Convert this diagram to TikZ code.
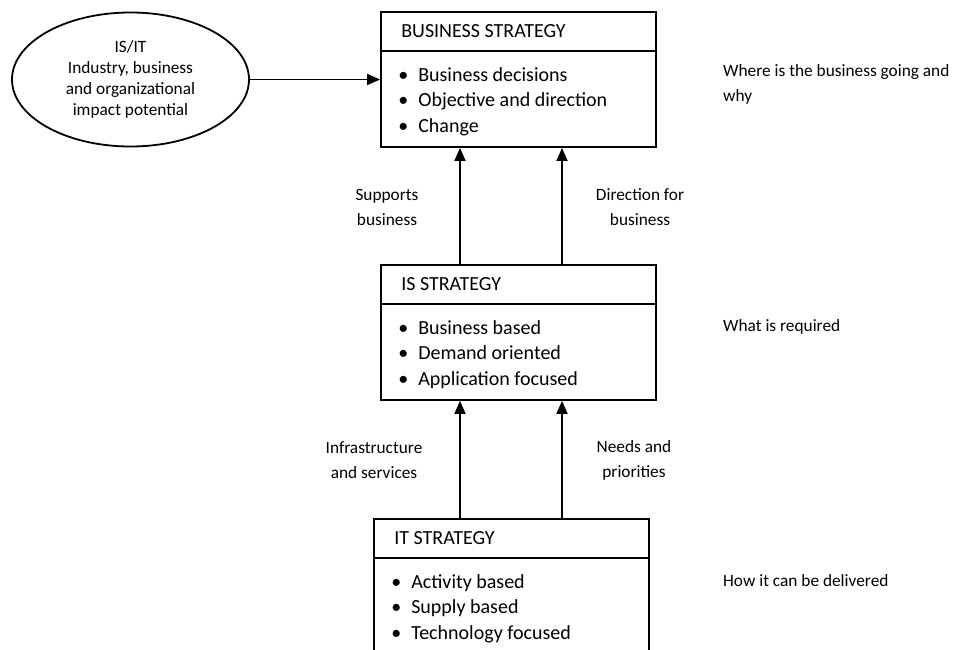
\documentclass[tikz,border=0pt]{standalone}
\usepackage{fontspec}
\setmainfont{Carlito}
\usetikzlibrary{shapes.geometric,arrows.meta}

\begin{document}
\begin{tikzpicture}[x=1pt,y=-1pt,
  font=\fontsize{17.3}{25}\selectfont,
  stratbox/.style={draw,line width=1.8pt,minimum width=275pt,minimum height=135pt,inner sep=0pt},
  headrule/.style={line width=1.8pt},
  boxfont/.style={font=\fontsize{20}{25}\selectfont},
  headtext/.style={boxfont,anchor=west,inner sep=0pt},
  itemtext/.style={boxfont,anchor=base west,inner sep=0pt},
  flow/.style={line width=1.8pt,-{Triangle[length=13pt,width=11pt]}},
  lbl/.style={align=center,inner sep=0pt},
  sidetext/.style={align=left,anchor=west,inner sep=0pt}
]
\useasboundingbox (0,0) rectangle (954,650);

% the three strategy boxes
\node[stratbox] (A) at (518.5,79.5) {};
\node[stratbox] (B) at (518.5,332.5) {};
\node[stratbox] (C) at (511.5,586.5) {};

% header rules and titles
\foreach \b/\title in {A/BUSINESS STRATEGY, B/IS STRATEGY, C/IT STRATEGY}{
  \draw[headrule] ([yshift=-40pt]\b.north west) -- ([yshift=-40pt]\b.north east);
  \node[headtext] (\b-title) at ([xshift=21pt,yshift=-20pt]\b.north west) {\title};
}

% bullet lists
\foreach \b/\items in {A/{Business decisions,Objective and direction,Change},
                       B/{Business based,Demand oriented,Application focused},
                       C/{Activity based,Supply based,Technology focused}}{
  \foreach \t [count=\i] in \items {
    \node[itemtext] (\b-item\i) at ([xshift=23pt,yshift={-(70+25.5*(\i-1))}]\b.north west)
      {\makebox[0pt][c]{\textbullet}\hspace{15pt}\t};
  }
}

% external driver
\node[draw,ellipse,line width=1.8pt,minimum width=237pt,minimum height=134pt,inner sep=0pt,
      align=center,font=\fontsize{17.3}{21}\selectfont] (E) at (130.5,79.5)
  {IS/IT\\Industry, business\\and organizational\\impact potential};
\draw[flow] (E.east) -- (E.east -| A.west);

% vertical connectors
\draw[flow] (B.north -| 460,0) -- (A.south -| 460,0);
\draw[flow] (B.north -| 562,0) -- (A.south -| 562,0);
\draw[flow] (C.north -| 460,0) -- (B.south -| 460,0);
\draw[flow] (C.north -| 562,0) -- (B.south -| 562,0);

% connector labels
\node[lbl] (l1) at (387,207.5) {Supports\\business};
\node[lbl] (l2) at (640,207.5) {Direction for\\business};
\node[lbl] (l3) at (374,460.5) {Infrastructure\\and services};
\node[lbl] (l4) at (634,460.5) {Needs and\\priorities};

% level descriptions
\node[sidetext] (s1) at (723,84.5) {Where is the business going and\\why};
\node[sidetext] (s2) at (723,327) {What is required};
\node[sidetext] (s3) at (723,581) {How it can be delivered};
\end{tikzpicture}
\end{document}
